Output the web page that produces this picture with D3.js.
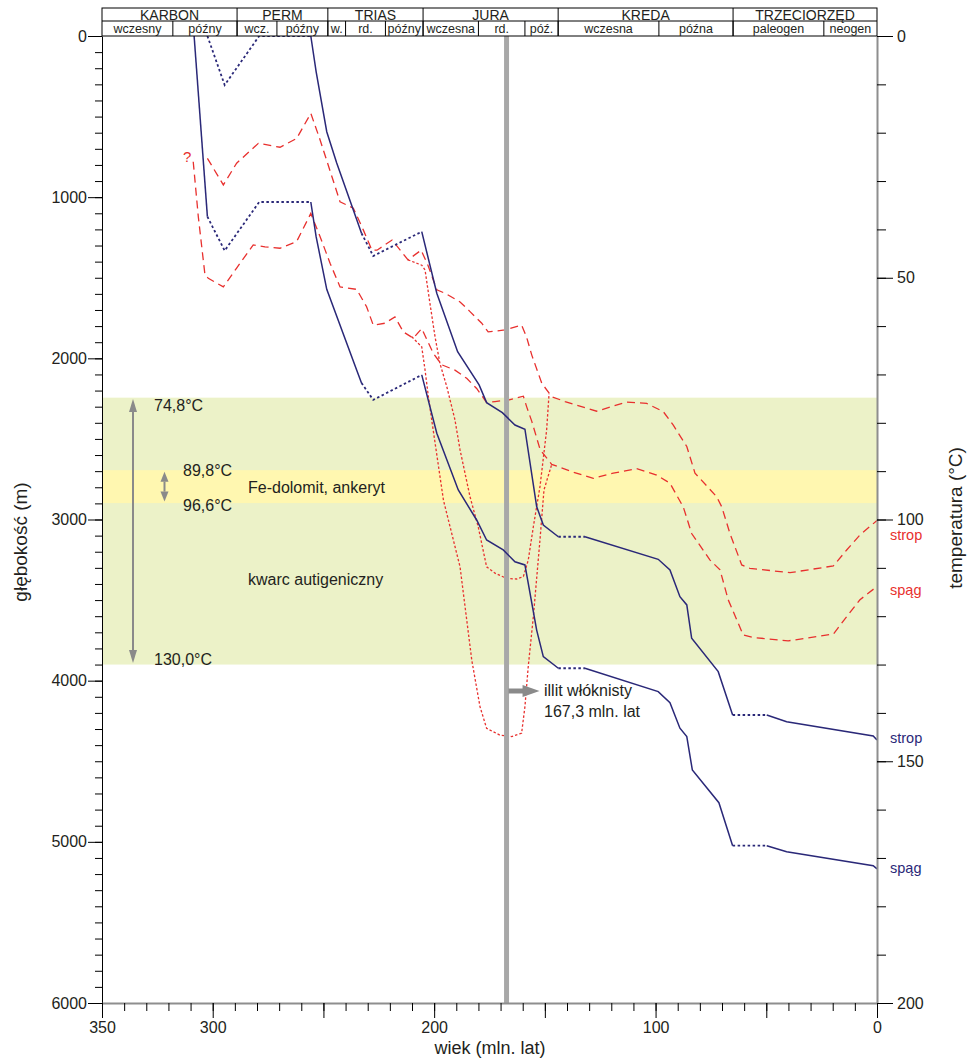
<!DOCTYPE html>
<html lang="pl">
<head>
<meta charset="UTF-8">
<script src="https://d3js.org/d3.v7.min.js"></script>
<title>Historia pogrzebania</title>
<style>
  body { margin: 0; background: #fff; }
  text { font-family: "Liberation Sans", Arial, sans-serif; fill: #231f20; }
</style>
</head>
<body>
<script>
// ---- data (age in mln. lat, depth in m, temperature in °C) ----
// third field 'e' = segment ending at this point is erosion / hiatus (dotted)
var stropDepth = [
  [302.4, 0], [294.6, 304, 'e'], [279.0, 0, 'e'], [255.7, 0, 'e'], [253.3, 221], [248.5, 594],
  [244.0, 788], [236.5, 1080], [232.8, 1224], [227.5, 1365, 'e'], [205.6, 1214, 'e'],
  [198.8, 1596], [189.4, 1959], [179.7, 2165], [176.3, 2275], [169.2, 2337], [163.5, 2414],
  [159.0, 2440], [153.7, 2920], [150.7, 3034], [143.9, 3107], [131.9, 3107, 'e'],
  [98.8, 3247], [93.5, 3313], [89.0, 3479], [85.9, 3530], [83.7, 3737], [71.7, 3944],
  [65.2, 4213], [49.8, 4213, 'e'], [40.8, 4255], [1.7, 4343], [0, 4368]
];
var spagDepth = [
  [308.4, 0], [302.4, 1121], [294.6, 1332, 'e'], [279.0, 1030, 'e'], [255.7, 1030, 'e'],
  [253.3, 1245], [248.5, 1572], [235.0, 2072], [232.8, 2153], [227.5, 2258, 'e'], [205.6, 2103, 'e'],
  [198.8, 2465], [189.1, 2817], [180.8, 3003], [176.3, 3127], [168.8, 3189], [163.5, 3262],
  [159.0, 3282], [153.7, 3686], [150.7, 3851], [143.9, 3923], [131.9, 3923, 'e'],
  [98.8, 4068], [93.5, 4137], [89.0, 4295], [85.9, 4347], [83.4, 4554], [71.4, 4757],
  [65.2, 5024], [49.8, 5024, 'e'], [40.8, 5061], [1.7, 5148], [0, 5168]
];
var stropTemp = [
  [302.4, 25.3], [295.2, 30.8], [289.2, 26.3], [279.4, 22.2], [269.6, 23.0], [262.1, 21.2],
  [255.7, 16.0], [251.5, 21.5], [242.5, 34.3], [236.5, 35.6], [232.0, 40.1], [228.1, 44.3],
  [225.8, 44.3], [219.0, 42.2], [211.8, 46.3], [205.9, 44.3], [202.8, 47.4], [198.8, 52.5],
  [195.1, 53.2], [188.3, 55.0], [183.8, 57.0], [178.5, 59.4], [175.6, 61.2], [168.0, 60.8],
  [160.5, 59.8], [158.3, 62.2], [155.9, 66.0], [151.4, 71.8], [146.9, 74.6], [140.9, 75.6],
  [126.6, 77.6], [113.0, 75.7], [104.0, 76.0], [96.5, 77.7], [92.0, 80.5], [85.9, 84.9],
  [82.2, 90.4], [72.4, 95.3], [70.1, 97.4], [66.4, 102.9], [61.1, 109.4], [57.4, 110.1],
  [39.3, 111.0], [19.7, 109.6], [13.7, 106.3], [7.7, 103.2], [0, 100.2]
];
var spagTemp = [
  [308.8, 26.0], [306.5, 37.4], [303.5, 49.4], [302.0, 50.1], [295.2, 51.9], [289.2, 48.0],
  [281.7, 43.2], [276.4, 43.6], [269.6, 43.9], [262.1, 42.5], [255.7, 36.7], [251.5, 41.5],
  [247.0, 47.0], [242.5, 51.9], [235.0, 52.4], [230.5, 56.0], [227.5, 59.8], [222.2, 59.4],
  [217.7, 58.1], [213.9, 61.2], [209.4, 62.5], [205.6, 60.5], [200.4, 65.6], [196.6, 68.0],
  [190.6, 69.1], [185.3, 70.8], [180.8, 72.9], [176.3, 75.8], [172.5, 75.6], [166.5, 75.3],
  [159.7, 74.5], [158.2, 76.7], [155.9, 79.7], [152.1, 85.6], [146.9, 88.6], [137.2, 90.2],
  [128.1, 91.5], [119.1, 90.4], [108.5, 89.5], [99.5, 90.8], [93.5, 92.5], [87.5, 97.4],
  [83.7, 102.9], [75.4, 108.4], [70.9, 110.4], [67.2, 116.6], [60.4, 123.9], [55.9, 124.4],
  [40.1, 125.1], [19.7, 123.7], [13.7, 120.1], [7.7, 116.6], [1.0, 114.2]
];
// alternative thermal history (dotted red)
var stropTempAlt = [
  [211.8, 46.3], [205.6, 47.4], [204.1, 48.4], [201.9, 55.3], [199.6, 62.2], [197.4, 67.7],
  [194.3, 72.5], [190.6, 79.4], [188.3, 85.6], [183.8, 95.3], [180.1, 101.5], [176.3, 109.8],
  [172.5, 111.1], [167.2, 112.2], [162.7, 112.3], [159.7, 111.8], [157.5, 108.4], [155.2, 101.5],
  [152.2, 93.2], [149.2, 81.5], [148.1, 74.0]
];
var spagTempAlt = [
  [210.1, 62.2], [205.6, 64.3], [204.1, 69.1], [202.6, 74.6], [201.1, 79.4], [195.8, 96.0],
  [188.3, 109.8], [183.0, 129.1], [179.3, 138.7], [176.3, 143.2], [170.3, 144.6], [165.0, 144.9],
  [160.5, 144.2], [159.0, 138.7], [157.5, 130.4], [155.2, 120.1], [152.2, 104.2], [150.4, 93.9],
  [146.9, 88.6]
];

var periods = [['KARBON', 350, 289], ['PERM', 289, 248], ['TRIAS', 248, 205], ['JURA', 205, 144],
               ['KREDA', 144, 65], ['TRZECIORZĘD', 65, 0]];
var epochs = [['wczesny', 350, 318], ['późny', 318, 289], ['wcz.', 289, 271], ['późny', 271, 248],
              ['w.', 248, 240], ['rd.', 240, 222], ['późny', 222, 205], ['wczesna', 205, 180],
              ['rd.', 180, 159], ['póź.', 159, 144], ['wczesna', 144, 98.5], ['późna', 98.5, 65],
              ['paleogen', 65, 24], ['neogen', 24, 0]];

var ageLabels = [350, 300, 200, 100, 0];
var mineralTemps = [74.8, 89.8, 96.6, 130.0];
var illitAge = 167.3;

// ---- setup ----
var svg = d3.select('body').append('svg')
  .attr('width', 971).attr('height', 1060);

var x = d3.scaleLinear().domain([350, 0]).range([102, 877]);
var yDepth = d3.scaleLinear().domain([0, 6000]).range([36, 1003]);
var yTemp = d3.scaleLinear().domain([0, 200]).range([36, 1003]);

var blue = '#2a2878', red = '#e8302e', grey = '#a8a8a8';

// mineral bands
svg.append('rect')
  .attr('x', x(350)).attr('width', x(0) - x(350))
  .attr('y', yTemp(mineralTemps[0])).attr('height', yTemp(mineralTemps[3]) - yTemp(mineralTemps[0]))
  .attr('fill', '#ecf2c8');
svg.append('rect')
  .attr('x', x(350)).attr('width', x(0) - x(350))
  .attr('y', yTemp(mineralTemps[1])).attr('height', yTemp(mineralTemps[2]) - yTemp(mineralTemps[1]))
  .attr('fill', '#fff7b0');

// split a curve into solid / dotted runs
function runs(pts) {
  var out = [], cur = {dotted: pts[1][2] === 'e', pts: [pts[0]]};
  for (var i = 1; i < pts.length; i++) {
    var dotted = pts[i][2] === 'e';
    if (dotted !== cur.dotted) {
      out.push(cur);
      cur = {dotted: dotted, pts: [pts[i - 1]]};
    }
    cur.pts.push(pts[i]);
  }
  out.push(cur);
  return out;
}

var lineDepth = d3.line().x(function(d) { return x(d[0]); }).y(function(d) { return yDepth(d[1]); });
var lineTemp = d3.line().x(function(d) { return x(d[0]); }).y(function(d) { return yTemp(d[1]); });

// temperature curves
[stropTemp, spagTemp].forEach(function(c) {
  svg.append('path').attr('d', lineTemp(c))
    .attr('fill', 'none').attr('stroke', red).attr('stroke-width', 1.3)
    .attr('stroke-dasharray', '8,5');
});
[stropTempAlt, spagTempAlt].forEach(function(c) {
  svg.append('path').attr('d', lineTemp(c))
    .attr('fill', 'none').attr('stroke', red).attr('stroke-width', 1.3)
    .attr('stroke-dasharray', '2.5,2');
});

// illite age line
svg.append('line')
  .attr('x1', x(illitAge)).attr('x2', x(illitAge))
  .attr('y1', yDepth(0)).attr('y2', yDepth(6000))
  .attr('stroke', grey).attr('stroke-width', 5);

// burial curves
[stropDepth, spagDepth].forEach(function(c) {
  runs(c).forEach(function(r) {
    svg.append('path').attr('d', lineDepth(r.pts))
      .attr('fill', 'none').attr('stroke', blue)
      .attr('stroke-width', r.dotted ? 1.8 : 1.5)
      .attr('stroke-dasharray', r.dotted ? '2.5,2.5' : null);
  });
});

// ---- header ----
var head = svg.append('g');
head.append('rect').attr('x', x(350)).attr('y', 8).attr('width', x(0) - x(350)).attr('height', 28)
  .attr('fill', '#fff').attr('stroke', '#000').attr('stroke-width', 1);
head.append('line').attr('x1', x(350)).attr('x2', x(0)).attr('y1', 21).attr('y2', 21)
  .attr('stroke', '#000');
head.selectAll('.pdiv').data(periods.slice(1)).enter().append('line')
  .attr('x1', function(d) { return x(d[1]); }).attr('x2', function(d) { return x(d[1]); })
  .attr('y1', 8).attr('y2', 36).attr('stroke', '#000');
head.selectAll('.ediv').data(epochs.slice(1)).enter().append('line')
  .attr('x1', function(d) { return x(d[1]); }).attr('x2', function(d) { return x(d[1]); })
  .attr('y1', 21).attr('y2', 36).attr('stroke', '#000');
head.selectAll('.pname').data(periods).enter().append('text')
  .attr('x', function(d) { return (x(d[1]) + x(d[2])) / 2; }).attr('y', 19.6)
  .attr('text-anchor', 'middle').attr('font-size', 14)
  .text(function(d) { return d[0]; });
head.selectAll('.ename').data(epochs).enter().append('text')
  .attr('x', function(d) { return (x(d[1]) + x(d[2])) / 2; }).attr('y', 33)
  .attr('text-anchor', 'middle').attr('font-size', 12.5)
  .text(function(d) { return d[0]; });

// ---- axes ----
function styleAxis(g, size) {
  g.selectAll('text').attr('font-size', size).attr('fill', '#231f20')
    .attr('font-family', '"Liberation Sans", Arial, sans-serif');
  g.selectAll('line').attr('stroke', '#000');
}

// depth (left)
svg.append('g').attr('transform', 'translate(102,0)')
  .call(d3.axisLeft(yDepth).tickValues(d3.range(0, 6001, 100)).tickSize(7).tickSizeOuter(0).tickFormat(''))
  .call(function(g) { g.select('.domain').attr('stroke', '#000'); styleAxis(g, 16); });
svg.append('g').attr('transform', 'translate(102,0)')
  .call(d3.axisLeft(yDepth).tickValues(d3.range(0, 6001, 1000)).tickSize(14).tickSizeOuter(0)
    .tickPadding(1).tickFormat(d3.format('d')))
  .call(function(g) { g.select('.domain').remove(); styleAxis(g, 16); });

// temperature (right)
svg.append('g').attr('transform', 'translate(877,0)')
  .call(d3.axisRight(yTemp).tickValues(d3.range(0, 201, 10)).tickSize(9).tickSizeOuter(0).tickFormat(''))
  .call(function(g) { g.select('.domain').attr('stroke', '#8e8e8e').attr('stroke-width', 2); styleAxis(g, 16); });
svg.append('g').attr('transform', 'translate(877,0)')
  .call(d3.axisRight(yTemp).tickValues(d3.range(0, 201, 50)).tickSize(16).tickSizeOuter(0).tickPadding(4))
  .call(function(g) { g.select('.domain').remove(); styleAxis(g, 16); });

// age (bottom)
svg.append('g').attr('transform', 'translate(0,1003)')
  .call(d3.axisBottom(x).tickValues(d3.range(0, 351, 10)).tickSize(8).tickSizeOuter(0).tickFormat(''))
  .call(function(g) { g.select('.domain').attr('stroke', '#8e8e8e').attr('stroke-width', 2); styleAxis(g, 16); });
svg.append('g').attr('transform', 'translate(0,1003)')
  .call(d3.axisBottom(x).tickValues(d3.range(0, 351, 50)).tickSize(15).tickSizeOuter(0).tickFormat(''))
  .call(function(g) { g.select('.domain').remove(); styleAxis(g, 16); });
svg.append('g').attr('transform', 'translate(0,1003)')
  .call(d3.axisBottom(x).tickValues(ageLabels).tickSize(0).tickPadding(19))
  .call(function(g) { g.select('.domain').remove(); styleAxis(g, 16); });

// axis titles
svg.append('text').attr('x', 490).attr('y', 1054).attr('text-anchor', 'middle')
  .attr('font-size', 18).text('wiek (mln. lat)');
svg.append('text').attr('transform', 'translate(27,542) rotate(-90)').attr('text-anchor', 'middle')
  .attr('font-size', 19).text('głębokość (m)');
svg.append('text').attr('transform', 'translate(962,518) rotate(-90)').attr('text-anchor', 'middle')
  .attr('font-size', 19).text('temperatura (°C)');

// ---- annotations ----
var annGrey = '#8a8a8a';
function dblArrow(xp, t1, t2, head) {
  var y1 = yTemp(t1), y2 = yTemp(t2);
  svg.append('line').attr('x1', xp).attr('x2', xp).attr('y1', y1 + head).attr('y2', y2 - head)
    .attr('stroke', annGrey).attr('stroke-width', 2);
  svg.append('path').attr('fill', annGrey)
    .attr('d', 'M' + xp + ',' + y1 + 'l4,' + head + 'l-8,0z');
  svg.append('path').attr('fill', annGrey)
    .attr('d', 'M' + xp + ',' + y2 + 'l4,' + (-head) + 'l-8,0z');
}
dblArrow(133, mineralTemps[0] + 0.3, mineralTemps[3] - 0.3, 13);
dblArrow(164.5, mineralTemps[1] + 0.3, mineralTemps[2] - 0.3, 10);

function label(xp, yp, txt, color, size) {
  svg.append('text').attr('x', xp).attr('y', yp).attr('font-size', size || 16)
    .style('fill', color || '#231f20').text(txt);
}
label(154, yTemp(mineralTemps[0]) + 13, '74,8°C');
label(183, yTemp(mineralTemps[1]) + 6, '89,8°C');
label(183, yTemp(mineralTemps[2]) + 8, '96,6°C');
label(154, yTemp(mineralTemps[3]) + 0, '130,0°C');
label(248, 493, 'Fe-dolomit, ankeryt');
label(248, 585, 'kwarc autigeniczny');

// illite arrow
svg.append('line').attr('x1', x(illitAge) + 2).attr('x2', x(illitAge) + 18).attr('y1', 691).attr('y2', 691)
  .attr('stroke', annGrey).attr('stroke-width', 5);
svg.append('path').attr('fill', annGrey)
  .attr('d', 'M' + (x(illitAge) + 33) + ',691l-17,-6l0,12z');
label(544, 696, 'illit włóknisty');
label(544, 717, '167,3 mln. lat');

// curve labels
label(890, 540, 'strop', red, 14.5);
label(890, 595, 'spąg', red, 14.5);
label(890, 743, 'strop', blue, 14.5);
label(890, 873, 'spąg', blue, 14.5);
label(183, 162, '?', red, 15);
</script>
</body>
</html>
